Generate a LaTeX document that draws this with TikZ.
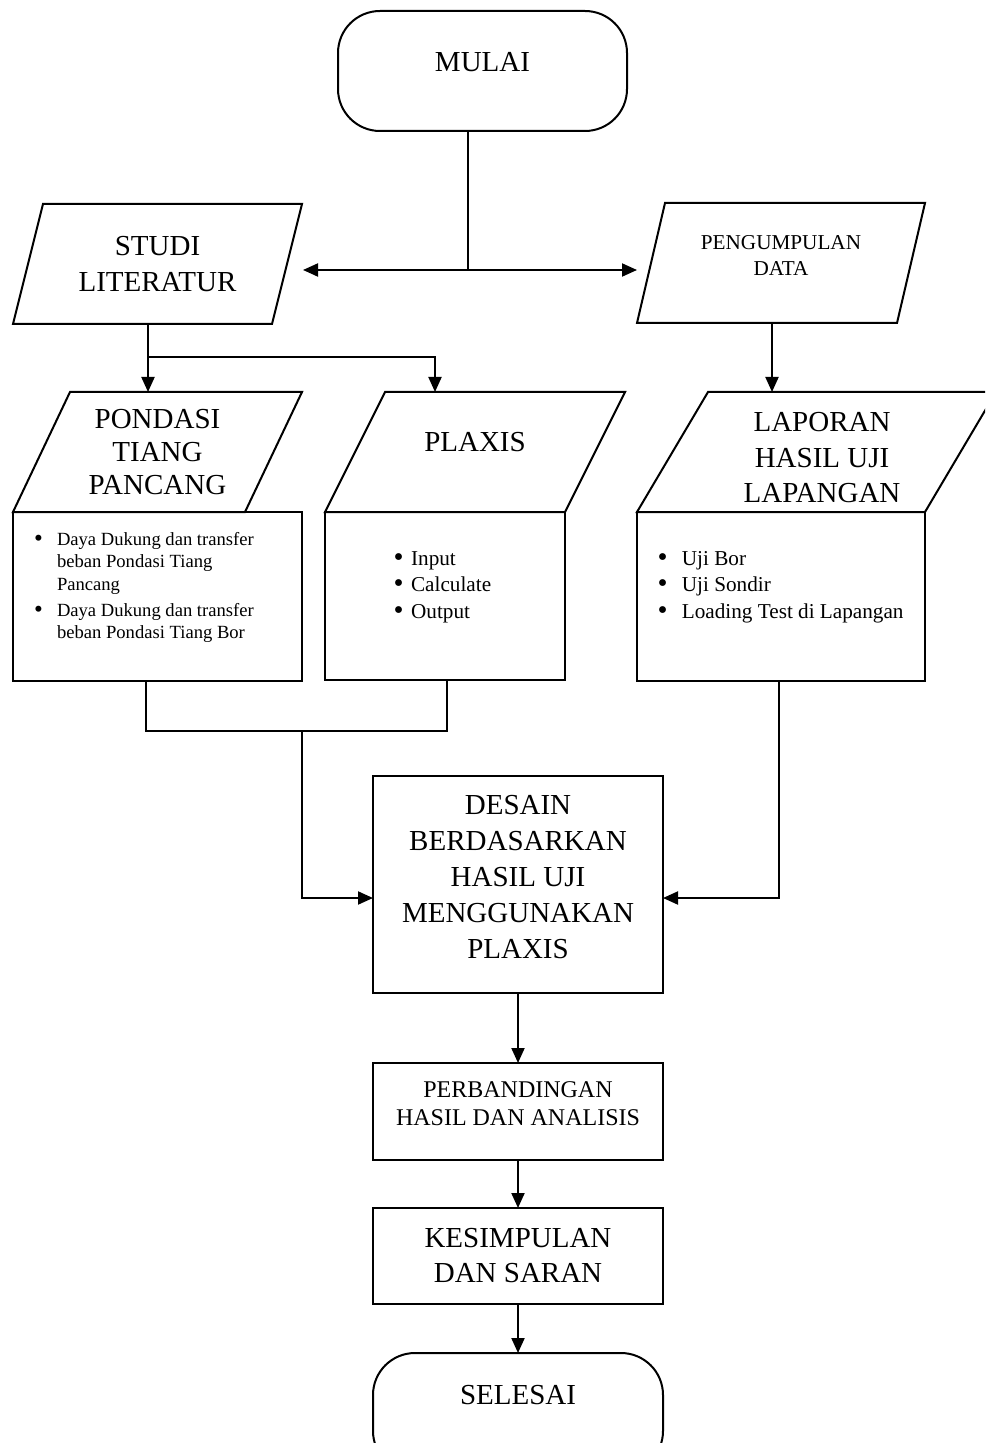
\documentclass[tikz,border=0pt]{standalone}
\usepackage{fontspec}
\setmainfont{Liberation Serif}
\usetikzlibrary{arrows.meta,calc}
\newcommand{\bul}{\raisebox{-0.12ex}{\scalebox{1.35}{\textbullet}}}
\begin{document}
\begin{tikzpicture}[x=0.5pt,y=-0.5pt,
  every node/.style={inner sep=0pt, outer sep=0pt},
  every label/.style={inner sep=0pt, outer sep=0pt},
  lw/.style={line width=1pt},
  arr/.style={line width=1pt,-{Triangle[length=7.5pt,width=6.5pt]}},
  box/.style={draw,line width=1pt,rectangle},
  area/.style={rectangle,draw=none},
  term/.style={draw,line width=1pt,rectangle,rounded corners=21pt},
  fbig/.style={font=\fontsize{14.5}{18}\selectfont, align=center},
  fbigt/.style={font=\fontsize{14.5}{16.5}\selectfont, align=center},
  fbigl/.style={font=\fontsize{14.5}{17.75}\selectfont, align=center},
  fmid/.style={font=\fontsize{10.6}{13}\selectfont, align=center},
  fperb/.style={font=\fontsize{12}{14}\selectfont, align=center},
  flist/.style={font=\fontsize{9.3}{11.25}\selectfont},
  flisttwo/.style={font=\fontsize{10.6}{13.25}\selectfont}
]
\clip (0,0) rectangle (985,1443);

% start
\node[term, minimum width=144.5pt, minimum height=60pt,
  label={[fbig, yshift=4.5pt, name=mulaitxt]center:MULAI}] (mulai) at (482.5,71) {};

% studi literatur
\node[area, minimum width=144.5pt, minimum height=60pt, fbig] (studi) at (157.5,264) {STUDI\\LITERATUR};
\draw[lw] ($(studi.north west)+(30,0)$) -- (studi.north east) -- ($(studi.south east)+(-30,0)$) -- (studi.south west) -- cycle;

% pengumpulan data
\node[area, minimum width=144pt, minimum height=60pt,
  label={[fmid, yshift=3.5pt, name=pengtxt]center:PENGUMPULAN\\DATA}] (peng) at (781,263) {};
\draw[lw] ($(peng.north west)+(28,0)$) -- (peng.north east) -- ($(peng.south east)+(-28,0)$) -- (peng.south west) -- cycle;

% pondasi tiang pancang
\node[area, minimum width=144.5pt, minimum height=60pt, fbigt] (pondtop) at (157.5,452) {PONDASI\\TIANG\\PANCANG};
\draw[lw] ($(pondtop.north west)+(57,0)$) -- (pondtop.north east) -- ($(pondtop.south east)+(-57,0)$) -- (pondtop.south west) -- cycle;
\node[box, minimum width=144.5pt, minimum height=84.5pt] (pond) at (157.5,596.5) {};
\node[anchor=base west, flist] (pondlist) at (34,545) {\begin{tabular}[t]{@{}l@{}}
\makebox[11.5pt][l]{\bul}Daya Dukung dan transfer\\
\hspace*{11.5pt}beban Pondasi Tiang\\
\hspace*{11.5pt}Pancang\\[1.75pt]
\makebox[11.5pt][l]{\bul}Daya Dukung dan transfer\\
\hspace*{11.5pt}beban Pondasi Tiang Bor
\end{tabular}};

% plaxis
\node[area, minimum width=150pt, minimum height=60pt,
  label={[fbig, yshift=5pt, name=plaxtxt]center:PLAXIS}] (plaxtop) at (475,452) {};
\draw[lw] ($(plaxtop.north west)+(60,0)$) -- (plaxtop.north east) -- ($(plaxtop.south east)+(-60,0)$) -- (plaxtop.south west) -- cycle;
\node[box, minimum width=120pt, minimum height=84pt] (plax) at (445,596) {};
\node[anchor=base west, flisttwo] (plaxlist) at (393.5,565) {\begin{tabular}[t]{@{}l@{}}
\makebox[8.8pt][l]{\bul}Input\\
\makebox[8.8pt][l]{\bul}Calculate\\
\makebox[8.8pt][l]{\bul}Output
\end{tabular}};

% laporan hasil uji lapangan
\node[area, minimum width=179.5pt, minimum height=60pt,
  label={[fbigl, xshift=2.75pt, yshift=-3pt, name=laptxt]center:LAPORAN\\HASIL UJI\\LAPANGAN}] (laptop) at (816.5,452) {};
\draw[lw] ($(laptop.north west)+(71,0)$) -- (laptop.north east) -- ($(laptop.south east)+(-71,0)$) -- (laptop.south west) -- cycle;
\node[box, minimum width=144pt, minimum height=84.5pt] (lap) at (781,596.5) {};
\node[anchor=base west, flisttwo] (laplist) at (657.5,565) {\begin{tabular}[t]{@{}l@{}}
\makebox[12.2pt][l]{\bul}Uji Bor\\
\makebox[12.2pt][l]{\bul}Uji Sondir\\
\makebox[12.2pt][l]{\bul}Loading Test di Lapangan
\end{tabular}};

% desain
\node[box, minimum width=145pt, minimum height=108.5pt,
  label={[fbig, yshift=3.5pt, name=desaintxt]center:DESAIN\\BERDASARKAN\\HASIL UJI\\MENGGUNAKAN\\PLAXIS}] (desain) at (518,884.5) {};

% perbandingan
\node[box, minimum width=145pt, minimum height=48.5pt,
  label={[fperb, yshift=3.75pt, name=perbtxt]center:PERBANDINGAN\\HASIL DAN ANALISIS}] (perb) at (518,1111.5) {};

% kesimpulan
\node[box, minimum width=145pt, minimum height=48pt, font=\fontsize{14.5}{17.5}\selectfont, align=center] (kesim) at (518,1256) {KESIMPULAN\\DAN SARAN};

% selesai
\node[term, minimum width=145pt, minimum height=60pt,
  label={[fbig, yshift=9pt, name=selesaitxt]center:SELESAI}] (selesai) at (518,1413) {};

% connectors
\coordinate (split) at (468,270);
\coordinate (tipL) at (303,270);
\coordinate (tipR) at (637,270);
\draw[lw] (mulai.south -| split) -- (split);
\draw[arr] (split) -- (tipL);
\draw[arr] (split) -- (tipR);

\coordinate (b1) at (148,357);
\coordinate (b2) at (435,357);
\draw[arr] (studi.south -| b1) -- (pondtop.north -| b1);
\draw[arr] (b1) -- (b2) -- (plaxtop.north -| b2);

\coordinate (b3) at (772,323);
\draw[arr] (peng.south -| b3) -- (laptop.north -| b3);

\coordinate (m1) at (146,731);
\coordinate (m2) at (447,731);
\coordinate (mj) at (302,731);
\coordinate (d1) at (302,898);
\coordinate (d2) at (779,898);
\draw[lw] (pond.south -| m1) -- (m1) -- (m2) -- (plax.south -| m2);
\draw[arr] (mj) -- (d1) -- (desain.west |- d1);
\draw[arr] (lap.south -| d2) -- (d2) -- (desain.east |- d2);

\draw[arr] (desain.south) -- (perb.north);
\draw[arr] (perb.south) -- (kesim.north);
\draw[arr] (kesim.south) -- (selesai.north);
\end{tikzpicture}
\end{document}
